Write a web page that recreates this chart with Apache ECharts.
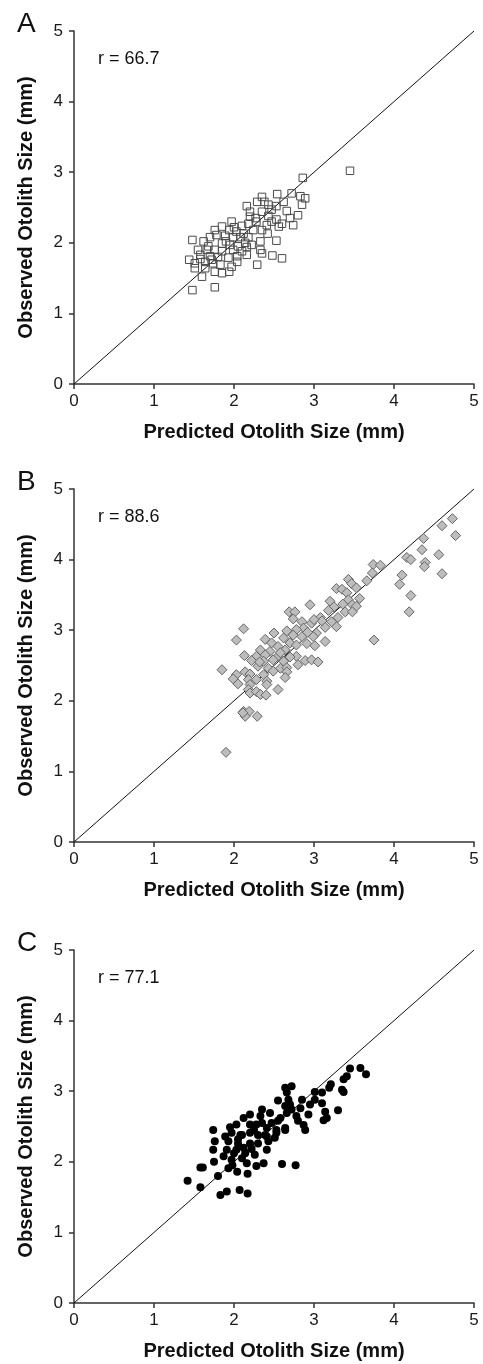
<!DOCTYPE html>
<html>
<head>
    <meta charset="utf-8">
    <title>Otolith size</title>
    <style>
        * { margin: 0; padding: 0; }
        body { background: #fff; }
        #main { width: 483px; height: 1364px; }
    </style>
    <script src="https://cdn.jsdelivr.net/npm/echarts@6/dist/echarts.min.js"></script>
</head>
<body>
    <div id="main"></div>
    <script type="text/javascript">
        // panel letters and r values
        const panelNames = ['A', 'B', 'C'];
        const rValues = ['66.7', '88.6', '77.1'];

        // [predicted, observed]
        const panelA = [
            [3.45,3.02],[2.86,2.92],[2.54,2.69],[2.72,2.70],[2.83,2.66],[2.89,2.63],[2.35,2.65],[2.29,2.58],
            [2.16,2.52],[2.43,2.54],[2.53,2.52],[2.85,2.54],[2.66,2.45],[2.20,2.44],[2.35,2.44],[2.80,2.39],
            [2.20,2.37],[2.43,2.38],[2.53,2.33],[2.60,2.27],[2.74,2.25],[2.56,2.23],[1.97,2.30],[2.10,2.24],
            [2.18,2.27],[2.28,2.30],[2.41,2.25],[1.85,2.23],[1.76,2.18],[1.94,2.18],[2.03,2.16],[2.24,2.18],
            [2.35,2.18],[2.42,2.13],[1.70,2.08],[1.78,2.11],[1.89,2.10],[1.99,2.08],[2.08,2.08],[2.18,2.08],
            [1.48,2.04],[1.62,2.02],[2.33,2.02],[2.53,2.03],[1.85,1.99],[1.95,1.97],[2.05,1.95],[2.16,1.94],
            [2.22,1.97],[1.55,1.90],[1.66,1.90],[1.76,1.90],[1.85,1.88],[1.99,1.90],[2.10,1.88],[2.33,1.90],
            [2.35,1.85],[1.58,1.83],[1.70,1.81],[1.80,1.80],[1.93,1.79],[2.04,1.81],[2.16,1.83],[2.48,1.82],
            [2.60,1.78],[1.44,1.76],[1.51,1.71],[1.64,1.73],[1.74,1.71],[1.83,1.69],[2.04,1.73],[2.29,1.69],
            [1.51,1.64],[1.64,1.64],[1.76,1.59],[1.85,1.57],[1.94,1.59],[1.60,1.52],[1.48,1.33],[1.76,1.37],
            [1.68,1.95],[1.90,2.02],[2.12,2.13],[2.27,2.35],[2.47,2.47],[2.38,2.58],[1.72,1.76],[2.00,2.22],
            [2.62,2.58],[2.47,2.30],[1.58,1.77],[1.97,1.66],[2.70,2.35],[2.14,2.00]
        ];

        const panelB = [
            [4.73,4.58],[4.60,4.48],[4.77,4.34],[4.37,4.30],[4.35,4.14],[4.56,4.07],[4.16,4.03],[4.21,4.00],
            [4.39,3.96],[4.38,3.90],[4.10,3.78],[4.60,3.80],[4.07,3.65],[4.21,3.49],[4.19,3.26],[3.74,3.93],
            [3.83,3.92],[3.73,3.81],[3.75,2.86],[3.43,3.72],[3.47,3.66],[3.66,3.70],[3.28,3.59],[3.35,3.58],
            [3.53,3.60],[3.41,3.53],[3.57,3.45],[3.20,3.41],[3.43,3.43],[2.95,3.36],[3.25,3.33],[3.36,3.37],
            [3.48,3.36],[3.53,3.34],[2.69,3.26],[2.76,3.26],[3.39,3.26],[3.48,3.26],[2.74,3.16],[3.08,3.18],
            [2.85,3.12],[2.97,3.10],[3.10,3.13],[3.30,3.18],[2.12,3.02],[2.87,3.03],[3.14,3.04],[3.28,3.05],
            [2.66,2.99],[2.78,3.01],[3.03,2.96],[2.50,2.96],[2.39,2.87],[2.62,2.89],[2.74,2.93],[2.85,2.91],
            [2.99,2.91],[3.14,2.84],[2.03,2.86],[2.47,2.82],[2.55,2.77],[2.70,2.82],[2.78,2.79],[2.91,2.81],
            [3.01,2.78],[2.33,2.72],[2.45,2.70],[2.64,2.72],[2.13,2.64],[2.28,2.63],[2.39,2.65],[2.55,2.63],
            [2.78,2.63],[2.22,2.57],[2.37,2.56],[2.49,2.58],[2.62,2.56],[2.89,2.57],[2.97,2.58],[3.05,2.55],
            [2.80,2.51],[2.30,2.49],[2.43,2.46],[2.58,2.46],[2.66,2.47],[1.85,2.44],[2.03,2.37],[2.14,2.41],
            [2.20,2.38],[2.37,2.37],[2.49,2.42],[2.66,2.41],[1.99,2.31],[2.18,2.30],[2.28,2.30],[2.41,2.28],
            [2.64,2.33],[2.20,2.23],[2.41,2.23],[2.55,2.16],[2.18,2.16],[2.20,2.11],[2.28,2.13],[2.33,2.09],
            [2.40,2.08],[2.12,1.85],[2.19,1.85],[2.14,1.78],[2.29,1.78],[2.11,1.83],[1.90,1.27],[3.00,3.15],
            [3.18,3.28],[2.92,2.97],[2.58,2.68],[2.32,2.55],[2.70,2.62],[3.22,3.12],[2.05,2.24]
        ];

        const panelC = [
            [3.65,3.24],[3.58,3.33],[3.45,3.32],[3.41,3.21],[3.37,3.17],[3.35,3.02],[3.37,2.99],[3.21,3.10],
            [3.19,3.05],[3.10,2.98],[3.01,2.99],[3.01,2.88],[3.10,2.83],[3.30,2.73],[3.14,2.71],[3.16,2.62],
            [2.95,2.81],[2.93,2.67],[2.85,2.88],[2.83,2.76],[2.87,2.52],[2.89,2.45],[2.78,2.65],[2.72,3.07],
            [2.64,3.05],[2.66,2.98],[2.55,2.87],[2.68,2.88],[2.64,2.79],[2.70,2.81],[2.72,2.74],[2.66,2.69],
            [2.58,2.62],[2.45,2.69],[2.35,2.74],[2.33,2.65],[2.20,2.67],[2.12,2.62],[2.47,2.55],[2.64,2.48],
            [2.53,2.45],[2.41,2.48],[2.28,2.53],[2.20,2.53],[2.03,2.53],[1.95,2.49],[1.74,2.45],[2.51,2.34],
            [2.41,2.36],[2.30,2.38],[2.20,2.41],[2.10,2.38],[1.97,2.41],[1.89,2.36],[1.42,1.73],[1.58,1.64],
            [1.58,1.92],[1.61,1.92],[1.83,1.53],[1.91,1.58],[2.07,1.60],[2.17,1.55],[1.80,1.80],[2.04,1.86],
            [2.17,1.83],[1.93,1.91],[1.75,2.00],[1.87,2.08],[1.97,2.03],[2.10,2.05],[2.16,1.98],[2.28,1.94],
            [2.37,1.98],[2.60,1.97],[2.77,1.95],[1.74,2.17],[1.76,2.29],[1.91,2.17],[2.03,2.17],[2.14,2.12],
            [2.26,2.10],[2.41,2.17],[1.93,2.29],[2.05,2.26],[2.20,2.26],[2.30,2.26],[2.43,2.29],[2.08,2.38],
            [2.39,2.38],[2.53,2.41],[2.64,2.45],[3.12,2.59],[2.00,2.12],[2.12,2.20],[2.25,2.45],[1.98,1.95],
            [2.35,2.55],[2.55,2.58],[2.80,2.58],[2.05,2.32],[2.22,2.18]
        ];

        // 1:1 reference line
        const oneToOne = [[0, 0], [5, 5]];

        const gridTops = [31, 489, 950];
        const gridHeight = 353;
        const font = 'Liberation Sans, Arial, sans-serif';

        const markers = [
            { symbol: 'rect', symbolSize: 7.5, itemStyle: { color: 'rgba(255,255,255,0)', borderColor: '#4a4a4a', borderWidth: 1, opacity: 1 } },
            { symbol: 'diamond', symbolSize: 10, itemStyle: { color: '#bdbdbd', borderColor: '#666', borderWidth: 1, opacity: 1 } },
            { symbol: 'circle', symbolSize: 8, itemStyle: { color: '#000', opacity: 1 } }
        ];
        const panelData = [panelA, panelB, panelC];

        const grids = [], xAxes = [], yAxes = [], series = [], titles = [];
        const axisLine = { show: true, lineStyle: { color: '#333', width: 1.5 } };
        const axisTick = { show: true, inside: false, length: 5, lineStyle: { color: '#333', width: 1.5 } };

        panelNames.forEach((name, i) => {
            grids.push({ left: 74, width: 400, top: gridTops[i], height: gridHeight });
            xAxes.push({
                gridIndex: i, type: 'value', min: 0, max: 5, interval: 1,
                name: 'Predicted Otolith Size (mm)', nameLocation: 'middle', nameGap: 38,
                nameTextStyle: { fontFamily: font, fontWeight: 'bold', fontSize: 20, color: '#111' },
                axisLine: axisLine, axisTick: axisTick, splitLine: { show: false },
                axisLabel: { fontFamily: font, fontSize: 17, color: '#1a1a1a', margin: 9 }
            });
            yAxes.push({
                gridIndex: i, type: 'value', min: 0, max: 5, interval: 1,
                name: 'Observed Otolith Size (mm)', nameLocation: 'middle', nameGap: 38, nameRotate: 90,
                nameTextStyle: { fontFamily: font, fontWeight: 'bold', fontSize: 20, color: '#111' },
                axisLine: axisLine, axisTick: axisTick, splitLine: { show: false },
                axisLabel: { fontFamily: font, fontSize: 17, color: '#1a1a1a', margin: 11 }
            });
            series.push({
                type: 'line', xAxisIndex: i, yAxisIndex: i, data: oneToOne,
                symbol: 'none', silent: true, z: 1,
                lineStyle: { color: '#111', width: 1 }
            });
            series.push(Object.assign({
                type: 'scatter', xAxisIndex: i, yAxisIndex: i, data: panelData[i], z: 2
            }, markers[i]));
            titles.push({
                text: name, left: 12, top: gridTops[i] - 26,
                textStyle: { fontFamily: font, fontWeight: 'normal', fontSize: 28, color: '#111' }
            });
            titles.push({
                text: 'r = ' + rValues[i], left: 93, top: gridTops[i] + 14,
                textStyle: { fontFamily: font, fontWeight: 'normal', fontSize: 18, color: '#111' }
            });
        });

        const chart = echarts.init(document.getElementById('main'));
        chart.setOption({
            animation: false,
            backgroundColor: '#fff',
            title: titles,
            grid: grids,
            xAxis: xAxes,
            yAxis: yAxes,
            series: series
        });
    </script>
</body>
</html>
